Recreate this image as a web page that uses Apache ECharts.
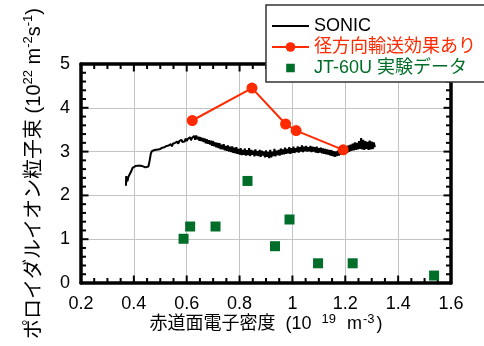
<!DOCTYPE html>
<html><head><meta charset="utf-8">
<script src="https://cdn.jsdelivr.net/npm/echarts@6/dist/echarts.min.js"></script>
<style>html,body{margin:0;padding:0;background:#fff}#c{width:484px;height:346px}</style>
</head><body><div id="c"></div>
<script>
const xTicks = [0.2, 0.4, 0.6, 0.8, 1.0, 1.2, 1.4, 1.6];
const yTicks = [0, 1, 2, 3, 4, 5];
const seriesNames = ['SONIC', '径方向輸送効果あり', 'JT-60U 実験データ'];
const sonic = [[0.370,2.22],[0.371,2.44],[0.372,2.30],[0.374,2.40],[0.376,2.33],[0.379,2.42],[0.382,2.38],[0.386,2.46],[0.390,2.55],[0.395,2.63],[0.400,2.64],[0.406,2.67],[0.412,2.64],[0.418,2.68],[0.425,2.70],[0.432,2.67],[0.438,2.70],[0.444,2.64],[0.450,2.60],[0.455,2.66],[0.460,2.80],[0.464,2.95],[0.468,3.01],[0.472,2.98],[0.476,3.03],[0.480,3.00],[0.484,3.04],[0.488,3.01],[0.492,3.05],[0.496,3.03],[0.500,3.06],[0.504,3.04],[0.508,3.09],[0.512,3.06],[0.516,3.10],[0.520,3.08],[0.524,3.13],[0.528,3.09],[0.532,3.14],[0.536,3.11],[0.540,3.17],[0.544,3.12],[0.548,3.18],[0.552,3.15],[0.556,3.20],[0.560,3.16],[0.564,3.23],[0.568,3.18],[0.572,3.24],[0.576,3.20],[0.580,3.27],[0.584,3.22],[0.588,3.26],[0.592,3.23],[0.596,3.30],[0.600,3.24],[0.604,3.29],[0.608,3.26],[0.612,3.33],[0.616,3.26],[0.620,3.31],[0.624,3.27],[0.628,3.36],[0.632,3.27],[0.636,3.37],[0.640,3.28],[0.644,3.34],[0.648,3.25],[0.652,3.33],[0.656,3.24],[0.660,3.31],[0.664,3.22],[0.668,3.30],[0.672,3.19],[0.676,3.28],[0.680,3.18],[0.684,3.26],[0.688,3.16],[0.692,3.25],[0.696,3.13],[0.700,3.24],[0.704,3.12],[0.708,3.21],[0.712,3.10],[0.716,3.20],[0.720,3.08],[0.724,3.19],[0.728,3.06],[0.732,3.16],[0.736,3.05],[0.740,3.17],[0.744,3.03],[0.748,3.13],[0.752,3.02],[0.756,3.14],[0.760,3.00],[0.764,3.11],[0.768,2.99],[0.772,3.12],[0.776,2.97],[0.780,3.09],[0.784,2.96],[0.788,3.10],[0.792,2.95],[0.796,3.06],[0.800,2.93],[0.804,3.08],[0.808,2.92],[0.812,3.04],[0.816,2.93],[0.820,3.07],[0.824,2.91],[0.828,3.03],[0.832,2.92],[0.836,3.08],[0.840,2.90],[0.844,3.04],[0.848,2.93],[0.852,3.02],[0.856,2.89],[0.860,3.05],[0.864,2.91],[0.868,3.01],[0.872,2.90],[0.876,3.04],[0.880,2.88],[0.884,3.02],[0.888,2.91],[0.892,3.00],[0.896,2.87],[0.900,3.03],[0.904,2.88],[0.908,2.99],[0.912,2.85],[0.916,3.04],[0.920,2.87],[0.924,3.00],[0.928,2.90],[0.932,3.06],[0.936,2.89],[0.940,3.02],[0.944,2.92],[0.948,3.04],[0.952,2.91],[0.956,3.07],[0.960,2.93],[0.964,3.05],[0.968,2.94],[0.972,3.09],[0.976,2.95],[0.980,3.06],[0.984,2.96],[0.988,3.10],[0.992,2.95],[0.996,3.08],[1.000,2.97],[1.004,3.11],[1.008,2.97],[1.012,3.08],[1.016,2.99],[1.020,3.12],[1.024,2.98],[1.028,3.10],[1.032,3.00],[1.036,3.14],[1.040,2.99],[1.044,3.11],[1.048,3.01],[1.052,3.13],[1.056,3.00],[1.060,3.10],[1.064,3.01],[1.068,3.13],[1.072,2.99],[1.076,3.11],[1.080,3.00],[1.084,3.10],[1.088,2.98],[1.092,3.11],[1.096,2.97],[1.100,3.08],[1.104,2.98],[1.108,3.09],[1.112,2.96],[1.116,3.07],[1.120,2.95],[1.124,3.06],[1.128,2.94],[1.132,3.05],[1.136,2.93],[1.140,3.04],[1.144,2.91],[1.148,3.03],[1.152,2.90],[1.156,3.01],[1.160,2.88],[1.164,3.00],[1.168,2.90],[1.172,3.02],[1.176,2.91],[1.180,3.04],[1.184,2.93],[1.188,3.06],[1.192,2.94],[1.196,3.09],[1.200,2.96],[1.204,3.11],[1.208,2.98],[1.212,3.14],[1.216,3.00],[1.220,3.16],[1.224,3.02],[1.228,3.18],[1.232,3.03],[1.236,3.21],[1.240,3.04],[1.244,3.20],[1.248,3.05],[1.252,3.24],[1.256,3.06],[1.260,3.31],[1.264,3.05],[1.268,3.27],[1.272,3.04],[1.276,3.24],[1.280,3.06],[1.284,3.22],[1.288,3.04],[1.292,3.25],[1.296,3.05],[1.300,3.23],[1.304,3.06],[1.308,3.21],[1.312,3.10]];
const radialX = [0.621, 0.847, 0.974, 1.014, 1.192];
const radialY = [3.71, 4.45, 3.63, 3.48, 3.04];
const expX = [0.588, 0.613, 0.709, 0.830, 0.934, 0.989, 1.097, 1.228, 1.536];
const expY = [1.01, 1.29, 1.29, 2.33, 0.84, 1.45, 0.45, 0.45, 0.17];

const FONT = "'Liberation Sans', 'Noto Sans CJK JP', sans-serif";
const RED = '#ff2a00', GREEN = '#006e28';
const X_MINOR = 4, Y_MINOR = 5;
const chart = echarts.init(document.getElementById('c'), null, {renderer: 'canvas'});
function mkAxis(pos, min, max, interval, main) {
  return {
    type: 'value', position: pos, min: min, max: max, interval: interval,
    axisLine: {show: true, onZero: false, lineStyle: {color: '#000', width: 3.5}},
    axisTick: {show: false}, minorTick: {show: false},
    axisLabel: main ? {show: true, fontSize: 18, color: '#000', margin: pos === 'bottom' ? 12 : 11, fontFamily: FONT} : {show: false},
    splitLine: main ? {show: true, lineStyle: {color: '#c4c4c4', width: 1}} : {show: false}
  };
}
const xMain = mkAxis('bottom', xTicks[0], xTicks[xTicks.length - 1], 0.2, true);
xMain.name = '{a|赤道面電子密度 }{b|(10 }{s|19}{c| m}{t|-3}{a|)}';
xMain.nameLocation = 'middle'; xMain.nameGap = 30; xMain.nameMoveOverlap = false;
xMain.nameTextStyle = {rich: {
  a: {fontSize: 18, fontFamily: FONT, color: '#000'},
  b: {fontSize: 18, fontFamily: FONT, color: '#000', padding: [0, 0, 0, 5]},
  c: {fontSize: 18, fontFamily: FONT, color: '#000'},
  s: {fontSize: 13, padding: [0, 6, 10, 5], fontFamily: FONT, color: '#000'},
  t: {fontSize: 13, padding: [0, 2, 10, 1], fontFamily: FONT, color: '#000'}}};
const yMain = mkAxis('left', yTicks[0], yTicks[yTicks.length - 1], 1, true);
yMain.name = '{a|ポロイダルイオン粒子束 (10}{s|22}{a| m}{s|-2}{a|s}{s|-1}{a|)}';
yMain.nameLocation = 'middle'; yMain.nameGap = 35; yMain.nameRotate = 90; yMain.nameMoveOverlap = false;
yMain.nameTextStyle = {rich: {a: {fontSize: 20, fontFamily: FONT, color: '#000'},
  s: {fontSize: 13, padding: [0, 0, 11, 0], fontFamily: FONT, color: '#000'}}};

function tickRender(params, api) {
  const x0 = xTicks[0], x1 = xTicks[xTicks.length - 1];
  const y0 = yTicks[0], y1 = yTicks[yTicks.length - 1];
  const kids = [];
  const seg = (a, b) => kids.push({type: 'line', shape: {x1: a[0], y1: a[1], x2: b[0], y2: b[1]},
    style: {stroke: '#000', lineWidth: 2}});
  const MAJ = 7.5, MIN = 5;
  for (let i = 0; i < xTicks.length; i++) {
    for (let k = 0; k < X_MINOR; k++) {
      if (i === xTicks.length - 1 && k > 0) break;
      const v = i < xTicks.length - 1 ? xTicks[i] + (xTicks[i + 1] - xTicks[i]) * k / X_MINOR : xTicks[i];
      const L = k === 0 ? MAJ : MIN;
      const pb = api.coord([v, y0]), pt = api.coord([v, y1]);
      seg(pb, [pb[0], pb[1] - L]); seg(pt, [pt[0], pt[1] + L]);
    }
  }
  for (let i = 0; i < yTicks.length; i++) {
    for (let k = 0; k < Y_MINOR; k++) {
      if (i === yTicks.length - 1 && k > 0) break;
      const v = i < yTicks.length - 1 ? yTicks[i] + (yTicks[i + 1] - yTicks[i]) * k / Y_MINOR : yTicks[i];
      const L = k === 0 ? MAJ : MIN;
      const pl = api.coord([x0, v]), pr = api.coord([x1, v]);
      seg(pl, [pl[0] + L, pl[1]]); seg(pr, [pr[0] - L, pr[1]]);
    }
  }
  return {type: 'group', children: kids};
}

chart.setOption({
  animation: false,
  textStyle: {fontFamily: FONT},
  grid: {left: 81, right: 33, top: 64, bottom: 63},
  graphic: [{type: 'rect', z: 3, shape: {x: 266, y: 5, width: 230, height: 77},
    style: {fill: '#fff', stroke: '#333', lineWidth: 1.5}}],
  legend: {
    z: 5, orient: 'vertical', left: 266, top: 12, itemGap: 3, itemWidth: 37, itemHeight: 12,
    symbolKeepAspect: true,
    textStyle: {fontSize: 18, fontFamily: FONT},
    data: [
      {name: seriesNames[0], icon: 'path://M0,4L40,4L40,6L0,6Z', textStyle: {color: '#000'}},
      {name: seriesNames[1], textStyle: {color: RED}},
      {name: seriesNames[2], textStyle: {color: GREEN}, icon: 'path://M-2,-2L-2,-2Z M0,0L10,0L10,10L0,10Z M12,12L12,12Z'}
    ]
  },
  xAxis: [xMain, mkAxis('top', xTicks[0], xTicks[xTicks.length - 1], 0.2, false)],
  yAxis: [yMain, mkAxis('right', yTicks[0], yTicks[yTicks.length - 1], 1, false)],
  series: [
    {name: seriesNames[0], type: 'line', data: sonic, showSymbol: false, symbol: 'none',
      lineStyle: {color: '#000', width: 2}, itemStyle: {color: '#000'}, z: 2},
    {name: seriesNames[1], type: 'line', data: radialX.map((x, i) => [x, radialY[i]]),
      symbol: 'circle', symbolSize: 11, lineStyle: {color: RED, width: 2}, itemStyle: {color: RED}, z: 3},
    {name: seriesNames[2], type: 'scatter', data: expX.map((x, i) => [x, expY[i]]),
      symbol: 'rect', symbolSize: 10, itemStyle: {color: GREEN, opacity: 1}, z: 4},
    {name: 'ticks', type: 'custom', data: [[xTicks[0], yTicks[0]]], renderItem: tickRender,
      silent: true, clip: false, z: 1}
  ]
});
</script></body></html>
